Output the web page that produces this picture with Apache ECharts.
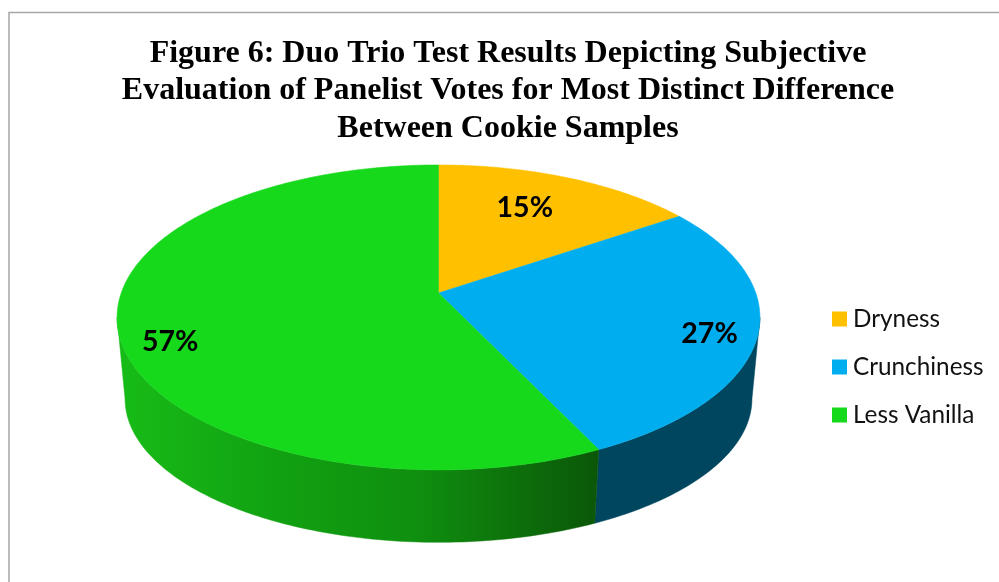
<!DOCTYPE html>
<html><head><meta charset="utf-8">
<style>html,body{margin:0;padding:0;background:#fff}#c{width:999px;height:582px}</style>
<script src="https://cdn.jsdelivr.net/npm/echarts@6/dist/echarts.min.js"></script>
</head><body><div id="c"></div>
<script>
const titleText = "Figure 6: Duo Trio Test Results Depicting Subjective\nEvaluation of Panelist Votes for Most Distinct Difference\nBetween Cookie Samples";
const categories = ["Dryness", "Crunchiness", "Less Vanilla"];
const values = [15.49, 27.4, 57.11];
const labels = ["15%", "27%", "57%"];

// drawing style / layout (not data)
const topColors = ["#FFC000", "#00AEEF", "#16D91C"];
const labelSpot = [[25.5, 0.695], [108, 0.86], [248.8, 0.862]];
const P = 0.16;
const topFace = {x: 438.5, y: 293, a: 317.3, b: 148.6};
const baseFace = {x: 438.5, y: 376, a: 309.4, b: 139.7};
const visFrom = 99.2, visTo = 260.8;

function project(f, deg, r) {
  const t = deg * Math.PI / 180, s = r * Math.sin(t), c = r * Math.cos(t), w = 1 + P * c;
  return [f.x + f.a * s / w, f.y - f.b * c / w];
}
function arc(f, d0, d1) {
  const n = Math.max(2, Math.ceil(Math.abs(d1 - d0))), pts = [];
  for (let i = 0; i <= n; i++) pts.push(project(f, d0 + (d1 - d0) * i / n, 1));
  return pts;
}
function wallFill(i) {
  if (i === 1) return "#00465F";
  return new echarts.graphic.LinearGradient(117, 0, 600, 0, [
    {offset: 0, color: "#17BC17"}, {offset: 0.35, color: "#11A011"},
    {offset: 0.62, color: "#0F8F0F"}, {offset: 1, color: "#0B5608"}
  ], true);
}
const total = values.reduce((a, b) => a + b, 0);
function renderSlice(i) {
  return function (params, api) {
    const start = values.slice(0, i).reduce((a, b) => a + b, 0) / total * 360;
    const end = start + api.value(0) / total * 360;
    const children = [];
    const w0 = Math.max(start, visFrom), w1 = Math.min(end, visTo);
    if (w1 > w0) {
      const fill = wallFill(i);
      children.push({type: "polygon",
        shape: {points: arc(topFace, w0, w1).concat(arc(baseFace, w1, w0))},
        style: {fill: fill, stroke: fill, lineWidth: 0.5}});
    }
    children.push({type: "polygon",
      shape: {points: [project(topFace, 0, 0)].concat(arc(topFace, start, end))},
      style: {fill: topColors[i], stroke: topColors[i], lineWidth: 0.5}});
    const p = project(topFace, labelSpot[i][0], labelSpot[i][1]);
    children.push({type: "text", z2: 10,
      style: {text: labels[i], x: p[0], y: p[1], fill: "#000", font: "bold 28.5px Lato", align: "center", verticalAlign: "middle"}});
    return {type: "group", children: children};
  };
}
const chart = echarts.init(document.getElementById("c"), null, {renderer: "canvas"});
chart.setOption({
  animation: false,
  backgroundColor: "#fff",
  title: {text: titleText, left: 508, top: 35, padding: 0, textAlign: "center",
    textStyle: {fontFamily: "Liberation Serif", fontWeight: "bold", fontSize: 32, lineHeight: 37.3, color: "#000"}},
  legend: {orient: "vertical", left: 832, top: 307, padding: 0, itemWidth: 15, itemHeight: 15, itemGap: 24, icon: "rect",
    data: categories, selectedMode: false,
    textStyle: {fontFamily: "Lato", fontSize: 24.3, color: "#111", padding: [0, 0, 0, 1]}},
  graphic: [{type: "rect", silent: true, shape: {x: 9, y: 12.5, width: 1100, height: 800},
    style: {fill: "none", stroke: "#A6A6A6", lineWidth: 1.5}}],
  series: categories.map((name, i) => ({
    type: "custom", name: name, coordinateSystem: "none",
    itemStyle: {color: topColors[i]},
    renderItem: renderSlice(i),
    data: [[values[i]]]
  }))
});
</script></body></html>
